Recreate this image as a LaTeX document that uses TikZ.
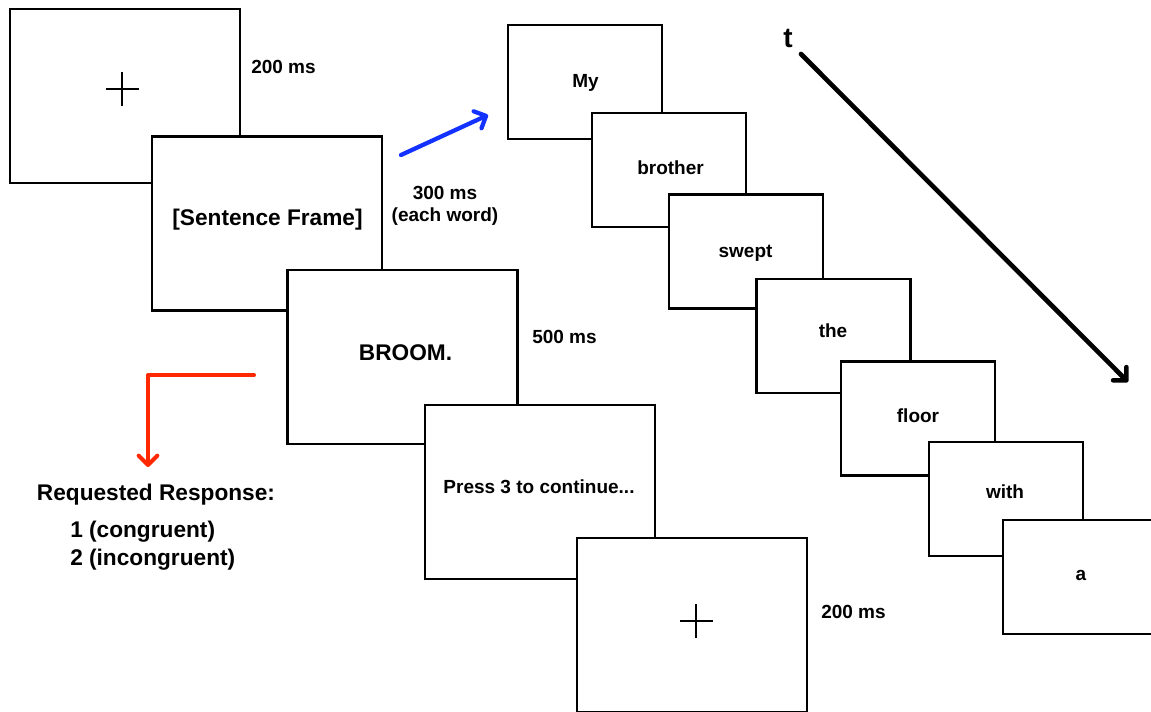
\documentclass[tikz,border=0pt]{standalone}
\usepackage{fontspec}
\setmainfont{Liberation Sans}
\usetikzlibrary{arrows.meta}
\definecolor{arrblue}{RGB}{20,50,255}
\definecolor{arrred}{RGB}{255,40,0}
\begin{document}
\begin{tikzpicture}[x=0.75pt,y=-0.75pt,
  frame/.style={draw=black, fill=white, line width=2pt, inner sep=0pt},
  bigbox/.style={frame, minimum width=172.5pt, minimum height=130.5pt},
  wordbox/.style={frame, minimum width=115.5pt, minimum height=85.5pt},
  lbl/.style={font=\fontsize{14.25}{17}\selectfont\bfseries, inner sep=0pt, anchor=base},
  biglbl/.style={font=\fontsize{17}{20}\selectfont\bfseries, inner sep=0pt, anchor=base},
  crossline/.style={line width=1.4pt},
  arr/.style={line cap=round, line join=round, -{Straight Barb[length=7pt,width=14pt,round]}}
]
\useasboundingbox (0,0) rectangle (1151,711);
\clip (0,0) rectangle (1151,711);

% left sequence
\node[bigbox] (fixA) at (125,96) {};
\draw[crossline] (106,89) -- (139,89) (122,72) -- (122,106);
\node[bigbox] (frame) at (267,223.5) {};
\node[biglbl] (frameT) at (267.5,225) {[Sentence Frame]};
\node[bigbox] (broom) at (402.5,357) {};
\node[biglbl] (broomT) at (405.5,360) {BROOM.};
\node[bigbox] (press) at (540,492) {};
\node[lbl] (pressT) at (539,493) {Press 3 to continue...};
\node[bigbox] (fixB) at (692,625) {};
\draw[crossline] (680,621) -- (713,621) (696,604) -- (696,638);

% timing labels
\node[lbl, anchor=base west] (t200a) at (251,73.5) {200 ms};
\node[lbl] (t300) at (445,199) {300 ms};
\node[lbl] (t300b) at (445,221) {(each word)};
\node[lbl, anchor=base west] (t500) at (532,343) {500 ms};
\node[lbl, anchor=base west] (t200b) at (821,618) {200 ms};

% response
\node[biglbl] (resp) at (156,500) {Requested Response:};
\node[biglbl, anchor=base west] (resp1) at (70,537) {1 (congruent)};
\node[biglbl, anchor=base west] (resp2) at (70,565) {2 (incongruent)};

% word sequence
\node[wordbox] (w1) at (585,82) {};
\node[lbl] (w1T) at (585.5,87) {My};
\node[wordbox] (w2) at (669,170) {};
\node[lbl] (w2T) at (670.5,174) {brother};
\node[wordbox] (w3) at (746,251.5) {};
\node[lbl] (w3T) at (745.5,257) {swept};
\node[wordbox] (w4) at (833.5,336) {};
\node[lbl] (w4T) at (833,337) {the};
\node[wordbox] (w5) at (918,418.5) {};
\node[lbl] (w5T) at (918,422) {floor};
\node[wordbox] (w6) at (1006,499) {};
\node[lbl] (w6T) at (1005,498) {with};
\node[wordbox] (w7) at (1080,577) {};
\node[lbl] (w7T) at (1081,580) {a};

% time axis
\node[font=\fontsize{21}{24}\selectfont\bfseries, inner sep=0pt, anchor=base] (tt) at (788,47) {t};
\coordinate (kA) at (801,54);
\coordinate (kB) at (1128,382);
\draw[arr, line width=3.5pt, black] (kA) -- (kB);

% blue arrow
\coordinate (bA) at (401,155);
\coordinate (bB) at (488,115);
\draw[arr, line width=3.2pt, arrblue] (bA) -- (bB);

% red arrow
\coordinate (rA) at (254,375);
\coordinate (rB) at (148,467);
\draw[arr, line width=3pt, arrred] (rA) -| (rB);
\end{tikzpicture}
\end{document}
